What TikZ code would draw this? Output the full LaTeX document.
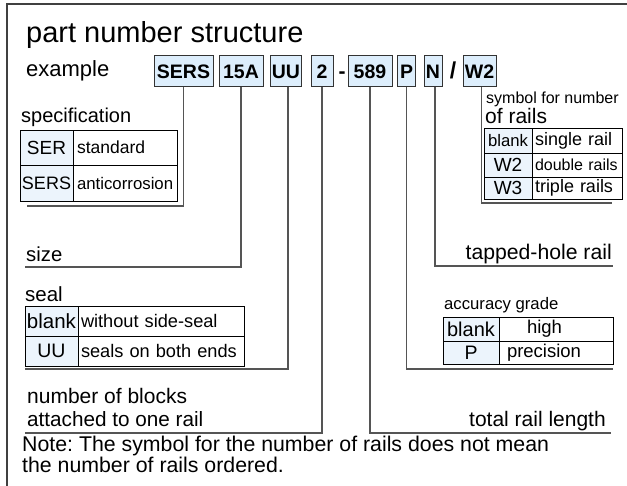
\documentclass[tikz,border=0pt]{standalone}
\usepackage{fontspec}
\setmainfont{Liberation Sans}
\usetikzlibrary{positioning}
\definecolor{codefill}{RGB}{221,238,252}
\definecolor{keyfill}{RGB}{236,244,252}
\definecolor{leadgray}{RGB}{85,85,85}
\newcommand{\fs}[1]{\fontsize{#1}{#1}\selectfont}
\frenchspacing

\begin{document}
\begin{tikzpicture}[x=1pt, y=-1pt,
    frame/.style={black!75, line width=1.5pt},
    code/.style={draw=black!80, fill=codefill, line width=1pt, minimum height=31,
      inner sep=0pt, outer sep=0pt, font=\fs{19.5}\bfseries},
    lead/.style={leadgray, line width=1.3pt},
    cell/.style={draw, line width=0.8pt, inner sep=0pt, outer sep=0pt},
    key/.style={cell, fill=keyfill},
    desc/.style={cell, inner xsep=4pt, align=left},
    label/.style={anchor=base west, inner sep=0pt}]
\useasboundingbox (0,0) rectangle (627,486);
\draw[frame] (627,4) -- (7,4) -- (7,486);

% heading
\node[label, font=\fs{29}] (title) at (26,43) {part number structure};
\node[label, font=\fs{22}] (example) at (26,77) {example};

% code boxes
\node[code, minimum width=59] (codespec) at (183.5,71.5) {SERS};
\node[code, minimum width=44] (codesize) at (241,71.5) {15A};
\node[code, minimum width=31] (codeseal) at (286,71.5) {UU};
\node[code, minimum width=22] (codeblocks) at (322,71.5) {2};
\node[font=\fs{21}\bfseries, inner sep=0pt, anchor=base] (dash) at ([xshift=20pt]codeblocks.base) {-};
\node[code, minimum width=44] (codelength) at (370,71.5) {589};
\node[code, minimum width=18] (codegrade) at (406.5,71.5) {P};
\node[code, minimum width=18] (codetap) at (433,71.5) {N};
\node[code, minimum width=33] (coderails) at (479.5,71.5) {W2};
\node[font=\fs{23}\bfseries, inner sep=0pt, anchor=base] (slash) at ([xshift=-26.5pt]coderails.base) {/};

% specification
\node[label, font=\fs{20}] (speclabel) at (21,123) {specification};
\node[key, minimum width=53, minimum height=35, anchor=north west, font=\fs{19}] (ser) at (20,130) {SER};
\node[desc, text width=96, minimum height=35, font=\fs{17.5}, right=0pt of ser] (serdesc) {standard};
\node[key, minimum width=53, minimum height=36, font=\fs{18}, below=0pt of ser] (sers) {SERS};
\node[desc, text width=96, minimum height=36, font=\fs{16.8}, right=0pt of sers] (sersdesc) {anticorrosion};

% size
\node[label, font=\fs{20.3}] (sizelabel) at (26,262) {size};

% seal
\node[label, font=\fs{20.5}] (seallabel) at (25,302) {seal};
\node[key, minimum width=53, minimum height=30, anchor=north west, font=\fs{20.5}] (nseal) at (25,306) {blank};
\node[desc, inner xsep=3pt, text width=160, minimum height=30, font=\fs{18.2}, right=0pt of nseal] (nsealdesc) {without side-seal};
\node[key, minimum width=53, minimum height=30, font=\fs{19.5}, below=0pt of nseal] (uu) {UU};
\node[desc, inner xsep=3pt, text width=160, minimum height=30, font=\fs{18.2}, right=0pt of uu] (uudesc) {seals on both ends};

% number of blocks
\node[label, font=\fs{21}] (blockslabel) at (27,404) {number of blocks};
\node[label, font=\fs{20.7}] (blockslabelb) at (27,427) {attached to one rail};

% note
\node[label, font=\fs{21.3}] (note) at (22,452) {Note: The symbol for the number of rails does not mean};
\node[label, font=\fs{21.3}] (noteb) at (22,472) {the number of rails ordered.};

% number of rails
\node[label, font=\fs{16}] (railslabel) at (486,104) {symbol for number};
\node[label, font=\fs{21}] (railslabelb) at (485,124) {of rails};
\node[key, minimum width=48, minimum height=25, anchor=north west, font=\fs{16.7}] (single) at (484,128) {blank};
\node[desc, inner xsep=3pt, text width=84, minimum height=25, font=\fs{18}, right=0pt of single] (singledesc) {single rail};
\node[key, minimum width=48, minimum height=24, font=\fs{19}, below=0pt of single] (double) {W2};
\node[desc, inner xsep=3pt, text width=84, minimum height=24, font=\fs{16}, right=0pt of double] (doubledesc) {double rails};
\node[key, minimum width=48, minimum height=22, font=\fs{19}, below=0pt of double] (triple) {W3};
\node[desc, inner xsep=3pt, text width=84, minimum height=22, font=\fs{18}, right=0pt of triple] (tripledesc) {triple rails};

% tapped-hole rail
\node[label, anchor=base east, font=\fs{21.2}] (taplabel) at (612,260) {tapped-hole rail};

% accuracy grade
\node[label, font=\fs{16.7}] (gradelabel) at (444,310) {accuracy grade};
\node[key, minimum width=56, minimum height=24, anchor=north west, font=\fs{20}] (high) at (443,317) {blank};
\node[desc, text width=106, minimum height=24, font=\fs{18.5}, right=0pt of high] (highdesc) {\hspace*{24pt}high};
\node[key, minimum width=56, minimum height=23, font=\fs{19.5}, below=0pt of high] (prec) {P};
\node[desc, text width=106, minimum height=23, font=\fs{18.5}, right=0pt of prec] (precdesc) {\hspace*{4pt}precision};

% total rail length
\node[label, anchor=base east, font=\fs{21}] (lengthlabel) at (606,427) {total rail length};

% leads
\coordinate (specend) at (27,206);
\coordinate (sizeend) at (25,267);
\coordinate (sealend) at (25,369);
\coordinate (blocksend) at (25,433);
\coordinate (lengthend) at (611,433);
\coordinate (gradeend) at (613,369);
\coordinate (tapend) at (613,266);
\coordinate (railsend) at (612,203);
\draw[lead] (codespec.south) |- (specend);
\draw[lead] (codesize.south) |- (sizeend);
\draw[lead] ([xshift=2pt]codeseal.south) |- (sealend);
\draw[lead] (codeblocks.south) |- (blocksend);
\draw[lead] (codelength.south) |- (lengthend);
\draw[lead] (codegrade.south) |- (gradeend);
\draw[lead] ([xshift=2pt]codetap.south) |- (tapend);
\draw[lead] ([xshift=2pt]coderails.south) |- (railsend);
\end{tikzpicture}
\end{document}
